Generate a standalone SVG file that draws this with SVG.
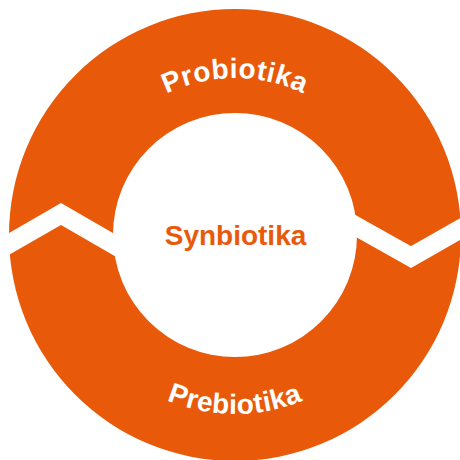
<svg xmlns="http://www.w3.org/2000/svg" width="460" height="460" viewBox="0 0 460 460">
<style>
.ring{fill:#E85A0A;fill-rule:evenodd}
.cut{fill:none;stroke:#FFFFFF;stroke-width:19;stroke-linejoin:miter;stroke-miterlimit:10}
.arc{font-family:"Liberation Sans",Arial,sans-serif;font-weight:bold;font-size:28px;fill:#FFFFFF;letter-spacing:0.5px}
.mid{font-family:"Liberation Sans",Arial,sans-serif;font-weight:bold;font-size:28px;fill:#E85A0A}
</style>
<defs>
<path id="topArc" d="M 78 235 A 157 157 0 0 1 392 235"/>
<path id="botArc" d="M 56 235 A 179 179 0 0 0 414 235"/>
</defs>
<rect width="460" height="460" fill="#FFFFFF"/>
<g id="ring">
<path class="ring" d="M 9 235 A 226 226 0 1 0 461 235 A 226 226 0 1 0 9 235 Z M 113 235 A 122 122 0 1 1 357 235 A 122 122 0 1 1 113 235 Z"/>
</g>
<g id="connectors">
<polyline class="cut" points="-12,256 61,214 125,251"/>
<polyline class="cut" points="345,220 411,257 476,220"/>
</g>
<g id="probiotika">
<text class="arc"><textPath href="#topArc" startOffset="50%" text-anchor="middle">Probiotika</textPath></text>
</g>
<g id="prebiotika">
<text class="arc"><textPath href="#botArc" startOffset="50%" text-anchor="middle">Prebiotika</textPath></text>
</g>
<g id="synbiotika">
<text class="mid" x="235.5" y="245" text-anchor="middle">Synbiotika</text>
</g>
</svg>
